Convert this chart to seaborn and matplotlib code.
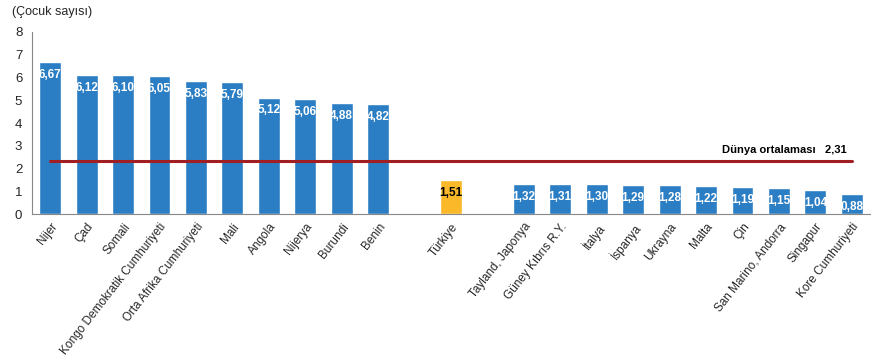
import matplotlib
matplotlib.use("Agg")
import matplotlib.pyplot as plt
import seaborn as sns
import pandas as pd
import numpy as np
from matplotlib.ticker import FixedLocator

high_countries = ["Nijer", "Çad", "Somali", "Kongo Demokratik Cumhuriyeti", "Orta Afrika Cumhuriyeti",
                  "Mali", "Angola", "Nijerya", "Burundi", "Benin"]
high_values = [6.67, 6.12, 6.10, 6.05, 5.83, 5.79, 5.12, 5.06, 4.88, 4.82]
turkey_country = ["Türkiye"]
turkey_values = [1.51]
low_countries = ["Tayland, Japonya", "Güney Kıbrıs R.Y.", "İtalya", "İspanya", "Ukrayna",
                 "Malta", "Çin", "San Marino, Andorra", "Singapur", "Kore Cumhuriyeti"]
low_values = [1.32, 1.31, 1.30, 1.29, 1.28, 1.22, 1.19, 1.15, 1.04, 0.88]
world_avg = 2.31
y_ticks = [0, 1, 2, 3, 4, 5, 6, 7, 8]

BLUE = "#2b7ec4"
YELLOW = "#fbb829"
RED = "#a11f22"

sns.set_style("white")
plt.rcParams["font.family"] = ["Liberation Sans", "DejaVu Sans"]

gap1, gap2 = "_gap1", "_gap2"
order = high_countries + [gap1] + turkey_country + [gap2] + low_countries
df = pd.DataFrame({
    "country": high_countries + turkey_country + low_countries,
    "value": high_values + turkey_values + low_values,
    "group": ["a"] * len(high_countries) + ["t"] + ["a"] * len(low_countries),
})

fig = plt.figure(figsize=(8.78, 3.62), dpi=100)
ax = fig.add_axes([32 / 878, 1 - 214 / 362, (870 - 32) / 878, (214 - 32) / 362])

sns.barplot(data=df, x="country", y="value", hue="group", order=order,
            palette={"a": BLUE, "t": YELLOW}, width=0.6, dodge=False,
            legend=False, ax=ax, saturation=1)

ax.set_xlim(-0.5, len(order) - 0.5)
ax.set_ylim(0, 8)
ax.set_yticks(y_ticks)
ax.set_yticklabels([str(t) for t in y_ticks], fontsize=9.5)

labels = [("" if c.startswith("_gap") else c) for c in order]
ax.set_xticks(range(len(order)))
ax.set_xticklabels(labels, rotation=52, ha="right", rotation_mode="anchor", fontsize=8.5)
ax.tick_params(axis="x", which="major", length=0, pad=5)
ax.xaxis.set_minor_locator(FixedLocator(np.arange(-0.5, len(order), 1.0)))
ax.tick_params(axis="x", which="minor", length=4, color="#888888", width=0.8, direction="out")
ax.tick_params(axis="y", length=4, color="#888888", width=0.8, direction="out", pad=3)

for s in ["top", "right"]:
    ax.spines[s].set_visible(False)
for s in ["left", "bottom"]:
    ax.spines[s].set_color("#888888")
    ax.spines[s].set_linewidth(0.8)
ax.set_xlabel("")
ax.set_ylabel("")

def fmt(v):
    return f"{v:.2f}".replace(".", ",")

for c, v in zip(df["country"], df["value"]):
    i = order.index(c)
    color = "black" if c in turkey_country else "white"
    ax.annotate(fmt(v), (i, v), xytext=(0, -5), textcoords="offset points",
                ha="center", va="top", fontsize=8.5, fontweight="bold", color=color)

ax.plot([0, len(order) - 1], [world_avg, world_avg], color=RED, linewidth=2.2, zorder=5)
ax.annotate(f"Dünya ortalaması   {fmt(world_avg)}", (len(order) - 1.15, world_avg),
            xytext=(0, 5), textcoords="offset points", ha="right", va="bottom",
            fontsize=8, fontweight="bold", color="black")

fig.text(12 / 878, 1 - 12 / 362, "(Çocuk sayısı)", fontsize=9, ha="left", va="center")

fig.savefig("out.png", dpi=100)
